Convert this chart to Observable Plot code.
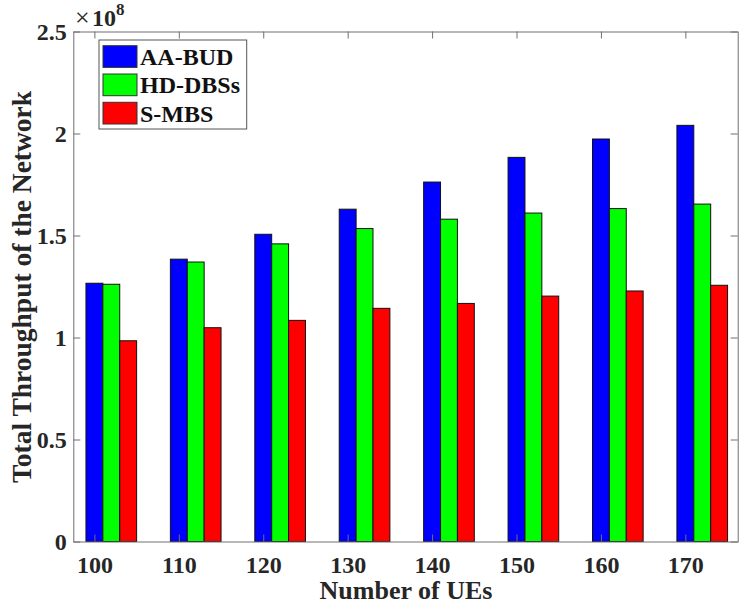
<!DOCTYPE html>
<html><head><meta charset="utf-8">
<script src="https://cdn.jsdelivr.net/npm/d3@7"></script>
<script src="https://cdn.jsdelivr.net/npm/@observablehq/plot@0.6"></script>
<style>
body{margin:0;background:#fff}
#chart{width:747px;height:608px}
svg{font-family:"Liberation Serif","Times New Roman",serif}
</style>
</head><body><div id="chart"></div>
<script>
// Data (throughput in units of 1e8)
const ues = [100, 110, 120, 130, 140, 150, 160, 170];
const aaBud  = [1.266, 1.384, 1.506, 1.629, 1.762, 1.883, 1.973, 2.040];
const hdDbss = [1.261, 1.370, 1.459, 1.534, 1.580, 1.610, 1.632, 1.654];
const sMbs   = [0.984, 1.048, 1.084, 1.143, 1.167, 1.203, 1.228, 1.256];
const seriesNames = ["AA-BUD", "HD-DBSs", "S-MBS"];
const seriesColors = ["#0000ff", "#00ff00", "#ff0000"];
const yTicks = [0, 0.5, 1, 1.5, 2, 2.5];
const xTitle = "Number of UEs";
const yTitle = "Total Throughput of the Network";
const exponentLabel = "8";

const seriesValues = [aaBud, hdDbss, sMbs];
const rows = ues.flatMap((u, j) => seriesValues.map((arr, i) => ({ue: u, idx: i, series: seriesNames[i], value: arr[j]})));

const W = 747, H = 608;
const mL = 73.3, mR = 9.3, mT = 31.5, mB = 66.5;
const fw = W - mL - mR, fh = H - mT - mB;
const axisColor = "#707070";
const font = "Liberation Serif, Times New Roman, serif";

const chart = Plot.plot({
  width: W, height: H,
  marginLeft: mL, marginRight: mR, marginTop: mT, marginBottom: mB,
  style: {fontFamily: font, background: "#fff"},
  x: {domain: [97.5, 176.2], axis: null},
  y: {domain: [0, 2.5], axis: null},
  color: {domain: seriesNames, range: seriesColors},
  marks: [
    Plot.rect(rows, {
      x1: d => d.ue + 2 * d.idx - 1,
      x2: d => d.ue + 2 * d.idx + 1,
      y1: 0, y2: "value",
      fill: "series", stroke: "#111", strokeWidth: 1
    }),
    // inward tick marks (bottom, top, left, right)
    Plot.tickX(ues, {x: d => d, insetTop: fh - 7, stroke: axisColor}),
    Plot.tickX(ues, {x: d => d, insetBottom: fh - 7, stroke: axisColor}),
    Plot.tickY(yTicks, {y: d => d, insetRight: fw - 7, stroke: axisColor}),
    Plot.tickY(yTicks, {y: d => d, insetLeft: fw - 7, stroke: axisColor}),
    Plot.frame({stroke: axisColor, strokeWidth: 1}),
    Plot.axisX(ues, {tickSize: 0, tickPadding: 14, fontSize: 24, fontWeight: "bold", fill: "#262626", label: null}),
    Plot.axisY(yTicks, {tickSize: 0, tickPadding: 7, fontSize: 24, fontWeight: "bold", fill: "#262626", label: null, tickFormat: d => String(d)}),
    Plot.text([xTitle], {frameAnchor: "bottom", lineAnchor: "middle", textAnchor: "middle", dy: 49, text: d => d, fontSize: 26, fontWeight: "bold", fill: "#262626"}),
    Plot.text([yTitle], {frameAnchor: "left", lineAnchor: "middle", textAnchor: "middle", dx: -52, rotate: -90, text: d => d, fontSize: 27.5, fontWeight: "bold", fill: "#262626"})
  ]
});

const svg = d3.select(chart);
// exponent label
const ex = svg.append("text").attr("x", 75).attr("y", 25.5).attr("fill", "#262626")
  .attr("text-anchor", "start").style("font-family", font);
ex.append("tspan").attr("font-size", 26).text("×");
ex.append("tspan").attr("x", 92).attr("font-size", 24).attr("font-weight", "bold").text("10");
ex.append("tspan").attr("font-size", 17).attr("font-weight", "bold").attr("dy", -10.5).text(exponentLabel);

// legend
const lg = svg.append("g");
lg.append("rect").attr("x", 99).attr("y", 40).attr("width", 147.7).attr("height", 89)
  .attr("fill", "#fff").attr("stroke", "#555").attr("stroke-width", 1);
seriesNames.forEach((name, i) => {
  const y = 45.7 + i * 28.3;
  lg.append("rect").attr("x", 103).attr("y", y).attr("width", 34).attr("height", 21.7)
    .attr("fill", seriesColors[i]).attr("stroke", "#333").attr("stroke-width", 1);
  lg.append("text").attr("x", 140).attr("y", y + 10.85).attr("dy", "0.35em")
    .attr("text-anchor", "start")
    .attr("font-size", 24).attr("font-weight", "bold").attr("fill", "#111")
    .style("font-family", font).text(name);
});

document.getElementById("chart").appendChild(chart);
</script>
</body></html>
